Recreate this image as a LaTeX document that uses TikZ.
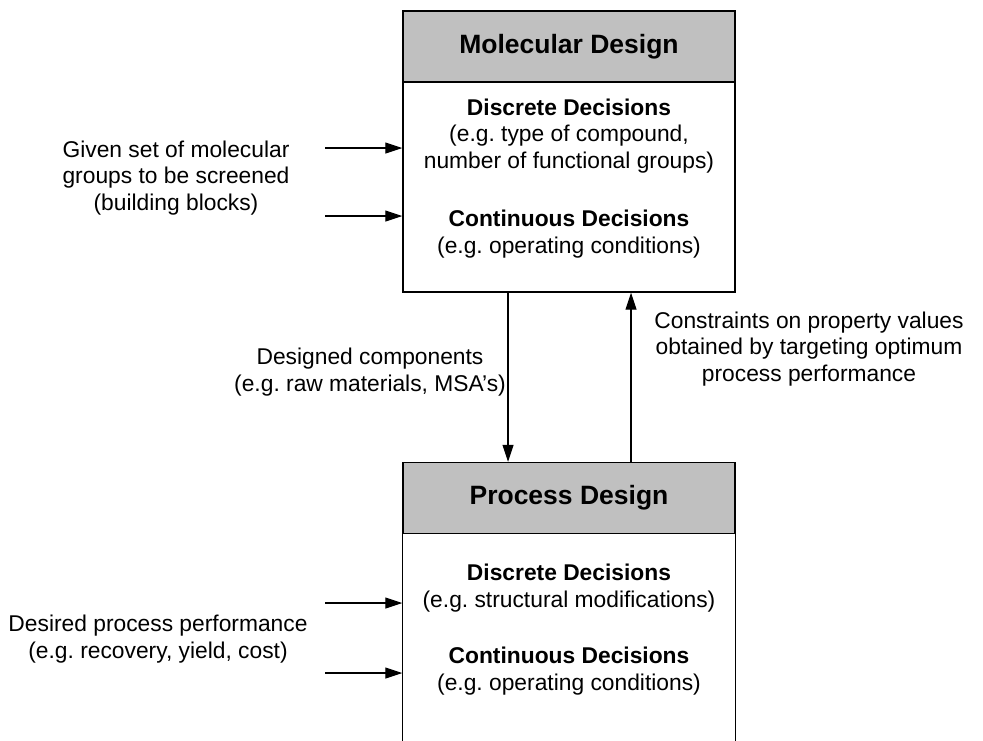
\documentclass[tikz,border=0pt]{standalone}
\usepackage{fontspec}
\setmainfont{Liberation Sans}
\usetikzlibrary{arrows.meta}
\definecolor{hdrgray}{RGB}{192,192,192}
\frenchspacing
\begin{document}
\begin{tikzpicture}[x=1pt,y=-1pt,
  boxline/.style={draw=black, line width=1.4pt},
  hdr/.style={boxline, fill=hdrgray, minimum width=332pt, minimum height=71pt, inner sep=0pt, font=\fontsize{26.5}{32}\selectfont\bfseries},
  bodybox/.style={boxline, fill=white, minimum width=332pt, minimum height=210pt, inner sep=0pt},
  txt/.style={align=center, inner sep=0pt, font=\fontsize{22.8}{26.5}\selectfont},
  arr/.style={draw=black, line width=1.1pt, -{Triangle[length=17pt,width=11pt]}}
]
\useasboundingbox (0,0) rectangle (983,740);
\clip (0,0) rectangle (983,740);
\fill[white] (0,0) rectangle (983,740);

% Molecular design box
\node[bodybox] (mb) at (569,187) {};
\node[hdr] (mh) at (569,46.5) {Molecular Design};
\node[txt] (md1) at (569,136) {\textbf{Discrete Decisions}\\(e.g. type of compound,\\number of functional groups)};
\node[txt] (md2) at (569,234) {\textbf{Continuous Decisions}\\(e.g. operating conditions)};

% Process design box (open at the bottom)
\coordinate (bot) at (0,760);
\node[hdr] (ph) at (569,498) {Process Design};
\draw[boxline] (ph.south west) -- (ph.south west |- bot);
\draw[boxline] (ph.south east) -- (ph.south east |- bot);
\node[txt] (pd1) at (569,588) {\textbf{Discrete Decisions}\\(e.g. structural modifications)};
\node[txt] (pd2) at (569,671) {\textbf{Continuous Decisions}\\(e.g. operating conditions)};

% Left inputs
\node[txt] (gin) at (176,178) {Given set of molecular\\groups to be screened\\(building blocks)};
\coordinate (i1) at (325,148);
\coordinate (i2) at (325,216);
\draw[arr] (i1) -- (i1 -| mb.west);
\draw[arr] (i2) -- (i2 -| mb.west);

\node[txt] (din) at (158,639) {Desired process performance\\(e.g. recovery, yield, cost)};
\coordinate (i3) at (325,603);
\coordinate (i4) at (325,673);
\draw[arr] (i3) -- (i3 -| ph.west);
\draw[arr] (i4) -- (i4 -| ph.west);

% Connectors between boxes
\coordinate (dx) at (508,0);
\coordinate (ux) at (631,0);
\draw[arr] (dx |- mb.south) -- (dx |- ph.north);
\draw[arr] (ux |- ph.north) -- (ux |- mb.south);

\node[txt] (dc) at (370,372) {Designed components\\(e.g. raw materials, MSA's)};
\node[txt] (cn) at (809,349) {Constraints on property values\\obtained by targeting optimum\\process performance};
\end{tikzpicture}
\end{document}
